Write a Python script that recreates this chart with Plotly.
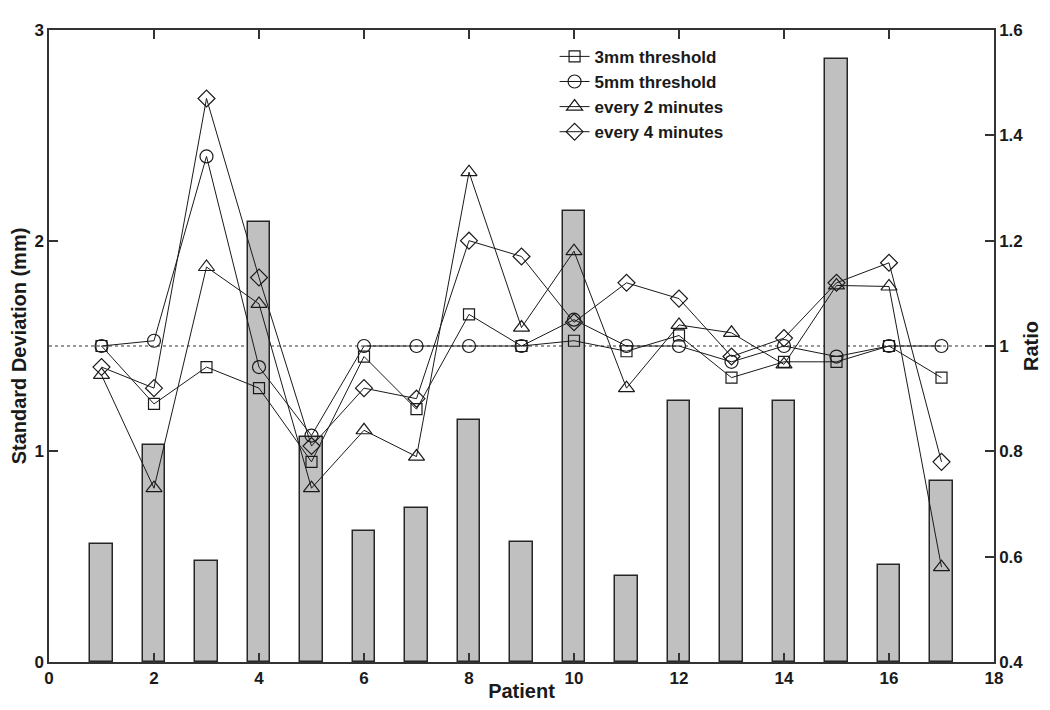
import plotly.graph_objects as go

patients = list(range(1, 18))
std_dev = [0.56, 1.03, 0.48, 2.09, 1.07, 0.62, 0.73, 1.15, 0.57, 2.14, 0.41, 1.24, 1.20, 1.24, 2.86, 0.46, 0.86]
ratio_3mm = [1.00, 0.89, 0.96, 0.92, 0.78, 0.98, 0.88, 1.06, 1.00, 1.01, 0.99, 1.02, 0.94, 0.97, 0.97, 1.00, 0.94]
ratio_5mm = [1.00, 1.01, 1.36, 0.96, 0.83, 1.00, 1.00, 1.00, 1.00, 1.05, 1.00, 1.00, 0.97, 1.00, 0.98, 1.00, 1.00]
ratio_2min = [0.945, 0.73, 1.15, 1.08, 0.73, 0.84, 0.79, 1.33, 1.035, 1.18, 0.92, 1.04, 1.025, 0.965, 1.115, 1.113, 0.58]
ratio_4min = [0.96, 0.92, 1.47, 1.13, 0.81, 0.92, 0.90, 1.20, 1.17, 1.045, 1.12, 1.09, 0.98, 1.015, 1.12, 1.158, 0.78]
ref_ratio = 1.0

series = [
    ("3mm threshold", ratio_3mm, "square-open", 11),
    ("5mm threshold", ratio_5mm, "circle-open", 13),
    ("every 2 minutes", ratio_2min, "triangle-up-open", 14),
    ("every 4 minutes", ratio_4min, "diamond-open", 13),
]

FONT = "Liberation Sans, Arial, sans-serif"
AX = "#333333"

fig = go.Figure()
fig.add_trace(go.Bar(
    x=patients, y=std_dev, width=0.42, yaxis="y",
    marker=dict(color="#c0c0c0", line=dict(color="#262626", width=1.5)),
    showlegend=False,
))
for name, vals, sym, sz in series:
    fig.add_trace(go.Scatter(
        x=patients, y=vals, yaxis="y2", name=name, mode="lines+markers",
        line=dict(color="#1a1a1a", width=1),
        marker=dict(symbol=sym, size=sz, color="#1a1a1a", line=dict(width=1.2, color="#1a1a1a")),
    ))

fig.add_shape(type="line", xref="paper", x0=0, x1=1, yref="y2", y0=ref_ratio, y1=ref_ratio,
              line=dict(color="#333333", width=1.2, dash="dot"), layer="below")

fig.update_layout(
    width=1034, height=694,
    margin=dict(l=41, r=48, t=22, b=40, autoexpand=False),
    paper_bgcolor="white", plot_bgcolor="white",
    font=dict(family=FONT, size=17, color="#1a1a1a", weight="bold"),
    bargap=0,
    xaxis=dict(range=[0, 18], tickvals=[0, 2, 4, 6, 8, 10, 12, 14, 16, 18],
               ticks="inside", ticklen=9, tickcolor=AX, tickwidth=1.5,
               showline=True, linecolor=AX, linewidth=1.5, mirror="ticks",
               showgrid=False, zeroline=False, automargin=False,
               title=dict(text="Patient", standoff=7),
               tickfont=dict(size=17)),
    yaxis=dict(range=[0, 3], tickvals=[0, 1, 2, 3],
               ticks="inside", ticklen=9, tickcolor=AX, tickwidth=1.5,
               showline=True, linecolor=AX, linewidth=1.5,
               showgrid=False, zeroline=False, automargin=False,
               title=dict(text="Standard Deviation (mm)", standoff=4),
               tickfont=dict(size=17)),
    yaxis2=dict(range=[0.4, 1.6], tickvals=[0.4, 0.6, 0.8, 1.0, 1.2, 1.4, 1.6],
                ticktext=["0.4", "0.6", "0.8", "1", "1.2", "1.4", "1.6"],
                overlaying="y", side="right",
                ticks="inside", ticklen=9, tickcolor=AX, tickwidth=1.5,
                showline=True, linecolor=AX, linewidth=1.5,
                showgrid=False, zeroline=False, automargin=False,
                title=dict(text="Ratio", standoff=6),
                tickfont=dict(size=17)),
    legend=dict(x=0.535, y=0.986, xanchor="left", yanchor="top",
                bgcolor="rgba(0,0,0,0)", borderwidth=0,
                font=dict(size=17), tracegroupgap=0, itemwidth=30),
)

fig.write_html("out.html")
